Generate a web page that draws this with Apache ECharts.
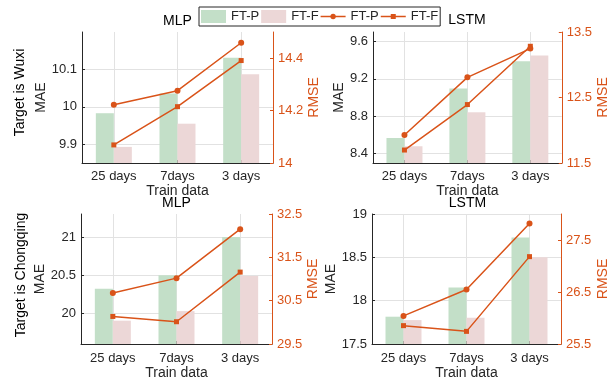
<!DOCTYPE html>
<html>
<head>
<meta charset="utf-8">
<script src="https://cdn.jsdelivr.net/npm/echarts@6/dist/echarts.min.js"></script>
<style>
html,body{margin:0;padding:0;background:#fff;}
#chart{width:611px;height:383px;}
</style>
</head>
<body>
<div id="chart"></div>
<script>
// ---- data ----
const categories = ['25 days', '7days', '3 days'];

// Target is Wuxi, MLP
const wuxiMlpMaeP = [9.983, 10.036, 10.131];
const wuxiMlpMaeF = [9.893, 9.955, 10.087];
const wuxiMlpRmseP = [14.222, 14.276, 14.459];
const wuxiMlpRmseF = [14.069, 14.215, 14.391];
// Target is Wuxi, LSTM
const wuxiLstmMaeP = [8.567, 9.097, 9.388];
const wuxiLstmMaeF = [8.479, 8.842, 9.448];
const wuxiLstmRmseP = [11.927, 12.808, 13.247];
const wuxiLstmRmseF = [11.698, 12.392, 13.282];
// Target is Chongqing, MLP
const cqMlpMaeP = [20.322, 20.5, 21.0];
const cqMlpMaeF = [19.905, 20.03, 20.49];
const cqMlpRmseP = [30.675, 31.02, 32.15];
const cqMlpRmseF = [30.136, 30.014, 31.159];
// Target is Chongqing, LSTM
const cqLstmMaeP = [17.815, 18.152, 18.728];
const cqLstmMaeF = [17.776, 17.803, 18.5];
const cqLstmRmseP = [26.04, 26.548, 27.817];
const cqLstmRmseF = [25.853, 25.743, 27.18];

// axis ranges / tick labels
const maeRanges = [[9.85, 10.2], [8.3, 9.7], [19.6, 21.3], [17.5, 19]];
const maeTicks = [[9.9, 10, 10.1], [8.4, 8.8, 9.2, 9.6], [20, 20.5, 21], [17.5, 18, 18.5, 19]];
const rmseRanges = [[14, 14.5], [11.5, 13.5], [29.5, 32.5], [25.5, 28]];
const rmseTicks = [[14, 14.2, 14.4], [11.5, 12.5, 13.5], [29.5, 30.5, 31.5, 32.5], [25.5, 26.5, 27.5]];

const panelTitles = ['MLP', 'LSTM', 'MLP', 'LSTM'];
const rowLabels = ['Target is Wuxi', 'Target is Chongqing'];
const xName = 'Train data';
const leftName = 'MAE';
const rightName = 'RMSE';
const legendLabels = ['FT-P', 'FT-F', 'FT-P', 'FT-F'];

const panels = [
  [wuxiMlpMaeP, wuxiMlpMaeF, wuxiMlpRmseP, wuxiMlpRmseF],
  [wuxiLstmMaeP, wuxiLstmMaeF, wuxiLstmRmseP, wuxiLstmRmseF],
  [cqMlpMaeP, cqMlpMaeF, cqMlpRmseP, cqMlpRmseF],
  [cqLstmMaeP, cqLstmMaeF, cqLstmRmseP, cqLstmRmseF]
];

// ---- styles / layout ----
const FONT = '"Liberation Sans", Arial, Helvetica, sans-serif';
const DARK = '#262626';
const ORANGE = '#D95319';
const GREEN = '#c3dfc8';
const PINK = '#ecd7d7';
const GRIDC = '#e2e2e2';

const grids = [
  {left: 82, top: 32, width: 191, height: 131},
  {left: 373, top: 32, width: 190, height: 131},
  {left: 81, top: 214, width: 191, height: 130},
  {left: 372, top: 214, width: 191, height: 130}
];
const xNameGap = [18, 18, 22, 22];
const xLabelMargin = [7, 7, 8, 8];
const leftNameGap = [31, 25, 32, 31];
const rightNameGap = [33, 34, 34, 35];

const seriesNames = ['FT-P', 'FT-F', 'FT-P ', 'FT-F '];

const xAxes = [], yAxes = [], series = [];
grids.forEach((g, i) => {
  xAxes.push({
    type: 'category', gridIndex: i, data: categories, boundaryGap: true,
    axisLine: {show: true, lineStyle: {color: DARK, width: 1}},
    axisTick: {show: true, inside: true, alignWithLabel: true, length: 3, lineStyle: {color: DARK}},
    axisLabel: {color: DARK, fontSize: 13, fontFamily: FONT, margin: xLabelMargin[i]},
    splitLine: {show: true, alignWithLabel: true, lineStyle: {color: GRIDC, width: 1}},
    name: xName, nameLocation: 'middle', nameGap: xNameGap[i],
    nameTextStyle: {color: DARK, fontSize: 14, fontFamily: FONT}
  });
  yAxes.push({
    type: 'value', gridIndex: i, position: 'left',
    min: maeRanges[i][0], max: maeRanges[i][1],
    axisLine: {show: true, lineStyle: {color: DARK, width: 1}},
    axisTick: {show: true, inside: true, length: 3, customValues: maeTicks[i], lineStyle: {color: DARK}},
    axisLabel: {color: DARK, fontSize: 13, fontFamily: FONT, margin: 5, customValues: maeTicks[i]},
    splitLine: {show: true, lineStyle: {color: GRIDC, width: 1}},
    name: leftName, nameLocation: 'middle', nameGap: leftNameGap[i], nameRotate: 90,
    nameTextStyle: {color: DARK, fontSize: 14, fontFamily: FONT}
  });
  yAxes.push({
    type: 'value', gridIndex: i, position: 'right',
    min: rmseRanges[i][0], max: rmseRanges[i][1],
    axisLine: {show: true, lineStyle: {color: ORANGE, width: 1}},
    axisTick: {show: true, inside: true, length: 3, customValues: rmseTicks[i], lineStyle: {color: ORANGE}},
    axisLabel: {color: ORANGE, fontSize: 13, fontFamily: FONT, margin: 5, customValues: rmseTicks[i]},
    splitLine: {show: false},
    name: rightName, nameLocation: 'middle', nameGap: rightNameGap[i], nameRotate: 90,
    nameTextStyle: {color: ORANGE, fontSize: 14, fontFamily: FONT}
  });
  const d = panels[i];
  series.push({
    type: 'bar', name: seriesNames[0], xAxisIndex: i, yAxisIndex: 2 * i, data: d[0],
    barWidth: 18, barGap: '0%', itemStyle: {color: GREEN}, z: 2
  });
  series.push({
    type: 'bar', name: seriesNames[1], xAxisIndex: i, yAxisIndex: 2 * i, data: d[1],
    barWidth: 18, barGap: '0%', itemStyle: {color: PINK}, z: 2
  });
  series.push({
    type: 'line', name: seriesNames[2], xAxisIndex: i, yAxisIndex: 2 * i + 1, data: d[2],
    symbol: 'circle', symbolSize: 6, itemStyle: {color: ORANGE}, lineStyle: {color: ORANGE, width: 1.5}, z: 4
  });
  series.push({
    type: 'line', name: seriesNames[3], xAxisIndex: i, yAxisIndex: 2 * i + 1, data: d[3],
    symbol: 'rect', symbolSize: 5, itemStyle: {color: ORANGE}, lineStyle: {color: ORANGE, width: 1.5}, z: 4
  });
});

const circleIcon = 'path://M0,2.6H9.9V3.9H0Z M15.1,2.6H25V3.9H15.1Z M9.8,3.25A2.7,2.7 0 1 1 15.2,3.25A2.7,2.7 0 1 1 9.8,3.25Z';
const squareIcon = 'path://M0,2.6H10V3.9H0Z M15,2.6H25V3.9H15Z M10,0.75H15V5.75H10Z';

const graphic = [
  {type: 'text', x: 177.5, y: 21.5, style: {text: panelTitles[0], font: '14px ' + FONT, fill: '#000', align: 'center', verticalAlign: 'middle'}},
  {type: 'text', x: 467, y: 20.5, style: {text: panelTitles[1], font: '14px ' + FONT, fill: '#000', align: 'center', verticalAlign: 'middle'}},
  {type: 'text', x: 176.5, y: 203, style: {text: panelTitles[2], font: '14px ' + FONT, fill: '#000', align: 'center', verticalAlign: 'middle'}},
  {type: 'text', x: 467.5, y: 203, style: {text: panelTitles[3], font: '14px ' + FONT, fill: '#000', align: 'center', verticalAlign: 'middle'}},
  {type: 'text', x: 20, y: 92.5, rotation: Math.PI / 2, style: {text: rowLabels[0], font: '14px ' + FONT, fill: '#000', align: 'center', verticalAlign: 'middle'}},
  {type: 'text', x: 21, y: 275, rotation: Math.PI / 2, style: {text: rowLabels[1], font: '14px ' + FONT, fill: '#000', align: 'center', verticalAlign: 'middle'}}
];

const chart = echarts.init(document.getElementById('chart'), null, {renderer: 'canvas'});
chart.setOption({
  animation: false,
  backgroundColor: '#fff',
  grid: grids,
  xAxis: xAxes,
  yAxis: yAxes,
  series: series,
  graphic: graphic,
  legend: {
    left: 199, top: 7, orient: 'horizontal',
    padding: [3, 2, 3, 2], itemGap: 2, itemWidth: 25, itemHeight: 13,
    borderColor: DARK, borderWidth: 1, backgroundColor: '#fff',
    textStyle: {fontSize: 13, color: DARK, fontFamily: FONT},
    formatter: function (n) { return legendLabels[seriesNames.indexOf(n)]; },
    data: [
      {name: seriesNames[0], icon: 'rect'},
      {name: seriesNames[1], icon: 'rect'},
      {name: seriesNames[2], icon: circleIcon, itemStyle: {borderWidth: 0}},
      {name: seriesNames[3], icon: squareIcon, itemStyle: {borderWidth: 0}}
    ]
  }
});
</script>
</body>
</html>
